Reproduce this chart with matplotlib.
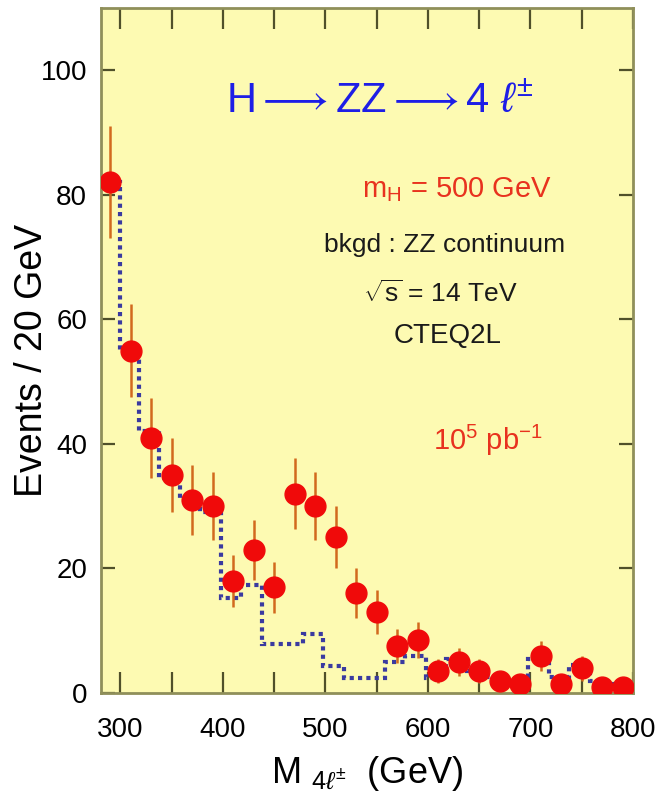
import matplotlib
matplotlib.use('Agg')
import matplotlib.pyplot as plt
from matplotlib.ticker import MultipleLocator

plt.rcParams.update({
    'font.family': ['Liberation Sans', 'DejaVu Sans'],
    'mathtext.fontset': 'custom',
    'mathtext.rm': 'Liberation Sans',
    'mathtext.it': 'Liberation Sans:italic',
    'mathtext.sf': 'Liberation Sans',
})

# signal + background pseudo-data (bin centres, events per 20 GeV)
mass = [290, 310, 330, 350, 370, 390, 410, 430, 450, 470, 490, 510, 530,
        550, 570, 590, 610, 630, 650, 670, 690, 710, 730, 750, 770, 790]
events = [82, 55, 41, 35, 31, 30, 18, 23, 17, 32, 30, 25, 16,
          13, 7.5, 8.5, 3.5, 5, 3.5, 2, 1.5, 6, 1.5, 4, 1, 1]
errors = [9, 7.4, 6.4, 5.9, 5.6, 5.5, 4.2, 4.8, 4.1, 5.7, 5.5, 5, 4,
          3.6, 2.7, 2.9, 1.9, 2.2, 1.9, 1.4, 1.2, 2.4, 1.2, 2, 1, 1]

# ZZ continuum background histogram
bkg_edges = [280, 300, 318, 338, 358, 378, 398, 418, 438, 458, 478, 498, 518, 538,
             558, 578, 598, 618, 638, 658, 678, 698, 718, 738, 758, 778, 798]
bkg_values = [82, 55, 42, 34.5, 31, 29, 15.2, 17.3, 7.8, 7.8, 9.5, 4.4, 2.4,
              2.4, 5, 6, 2.4, 5.5, 3.5, 2.5, 2, 5.5, 2.5, 4.5, 2, 1.5]

fig = plt.figure(figsize=(6.58, 8.08), dpi=100)
ax = fig.add_axes([101/658, 1 - 693/808, 532/658, 685/808])
ax.set_facecolor('#fdfab2')

ax.stairs(bkg_values, bkg_edges, baseline=None, color='#3a3aa0',
          linestyle=(0, (1, 1)), linewidth=3, zorder=2)
ax.errorbar(mass, events, yerr=errors, fmt='none', ecolor='#d2691e',
            elinewidth=1.8, zorder=3)
ax.plot(mass, events, 'o', color='#f00a0a', markersize=15, zorder=4)

ax.set_xlim(281, 800)
ax.set_ylim(0, 110)
ax.xaxis.set_major_locator(MultipleLocator(100))
ax.xaxis.set_minor_locator(MultipleLocator(50))
ax.yaxis.set_major_locator(MultipleLocator(20))

for s in ax.spines.values():
    s.set_color('#8f8f5a')
    s.set_linewidth(2)

ax.tick_params(axis='x', which='both', direction='in', top=True, length=15,
               width=1.6, color='#50502a', labelsize=20, pad=17)
ax.tick_params(axis='y', which='both', direction='in', right=True, length=10,
               width=1.6, color='#50502a', labelsize=20, pad=10)

ax.set_ylabel('Events / 20 GeV', fontsize=27)
ax.yaxis.set_label_coords(-0.095, 0.486)
ax.set_xlabel(r'M $_{4\ell^{\pm}}$  (GeV)', fontsize=26, labelpad=8)

ax.text(0.525, 0.847, r'H$\longrightarrow$ZZ$\longrightarrow$4 $\ell^{\pm}$',
        transform=ax.transAxes, ha='center', va='baseline', fontsize=30,
        color='#1e1ee6')
ax.text(0.669, 0.724, r'm$_{\rm H}$ = 500 GeV', transform=ax.transAxes,
        ha='center', va='baseline', fontsize=21, color='#e8321e')
ax.text(0.645, 0.644, 'bkgd : ZZ continuum', transform=ax.transAxes,
        ha='center', va='baseline', fontsize=19, color='#1a1a1a')
ax.text(0.637, 0.571, r'$\sqrt{\rm s}$ = 14 TeV', transform=ax.transAxes,
        ha='center', va='baseline', fontsize=19, color='#1a1a1a')
ax.text(0.652, 0.511, 'CTEQ2L', transform=ax.transAxes,
        ha='center', va='baseline', fontsize=20, color='#1a1a1a')
ax.text(0.727, 0.355, r'10$^{5}$ pb$^{-1}$', transform=ax.transAxes,
        ha='center', va='baseline', fontsize=21, color='#e8321e')

plt.savefig('out.png', dpi=100)
